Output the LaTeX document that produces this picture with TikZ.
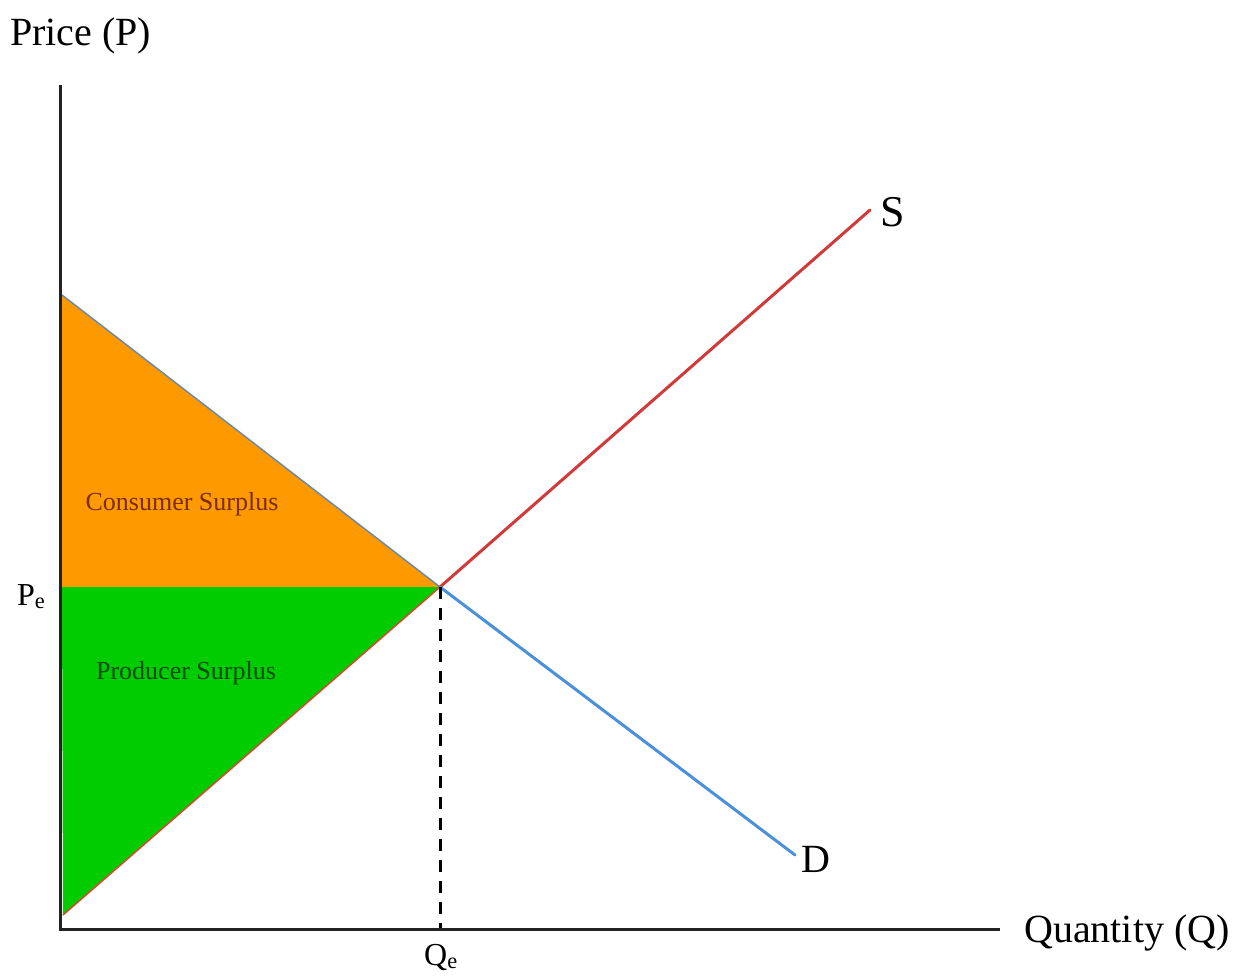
\documentclass[tikz,border=0pt]{standalone}
\usepackage{fontspec}
\setmainfont{Liberation Serif}
\definecolor{csorange}{HTML}{FF9900}
\definecolor{psgreen}{HTML}{00CC00}
\definecolor{supred}{HTML}{D03A3A}
\definecolor{demblue}{HTML}{4A90DA}
\definecolor{cstext}{HTML}{7A2E00}
\definecolor{pstext}{HTML}{004A00}
\definecolor{axisgray}{HTML}{222222}
\tikzset{
  axisline/.style={line width=3pt, draw=axisgray},
  curveline/.style={line width=3pt},
  biglabel/.style={font=\fontsize{40}{48}\selectfont, inner sep=0pt},
  smalllabel/.style={font=\fontsize{32}{38}\selectfont, inner sep=0pt},
  arealabel/.style={font=\fontsize{26}{30}\selectfont, inner sep=0pt},
}
\begin{document}
\begin{tikzpicture}[x=1pt,y=-1pt]
\useasboundingbox (0,0) rectangle (1237,978);
% key points
\coordinate (O) at (60,929);
\coordinate (ytop) at (60,85);
\coordinate (xend) at (1000,929);
\coordinate (dtop) at (62,295);
\coordinate (E) at (440,587);
\coordinate (dend) at (795,855);
\coordinate (sbot) at (63,915);
\coordinate (send) at (870,210);
\coordinate (pe) at (62,587);
\coordinate (qe) at (440,929);
% areas
\fill[csorange] (dtop) -- (pe) -- (E) -- cycle;
\fill[psgreen] (pe) -- (E) -- (sbot) -- cycle;
\draw[line width=1.5pt, draw=demblue!60!black!70] (dtop) -- (E);
\draw[line width=1.5pt, draw=supred!80!orange] (sbot) -- (E);
% curves
\draw[curveline, draw=supred, line cap=round] (E) -- (send);
\draw[curveline, draw=demblue, line cap=round] (E) -- (dend);
% dashed
\draw[line width=3pt, dash pattern=on 12pt off 9pt] (E) -- (qe);
% axes
\draw[axisline] (ytop) -- (O) -- (xend);
% labels
\node[biglabel, anchor=base west] (plab) at (10,45) {Price (P)};
\node[biglabel, anchor=base west] (qlab) at (1024,942) {Quantity (Q)};
\node[biglabel, anchor=base west, font=\fontsize{44}{50}\selectfont] (slab) at (880,226) {S};
\node[biglabel, anchor=base west] (dlab) at (801,872) {D};
\node[smalllabel, anchor=base west] (pelab) at (17,605) {P\textsubscript{e}};
\node[smalllabel, anchor=base west] (qelab) at (424,965) {Q\textsubscript{e}};
\node[arealabel, text=cstext] (cslab) at (182,504) {Consumer Surplus};
\node[arealabel, text=pstext] (pslab) at (186,673) {Producer Surplus};
\end{tikzpicture}
\end{document}
